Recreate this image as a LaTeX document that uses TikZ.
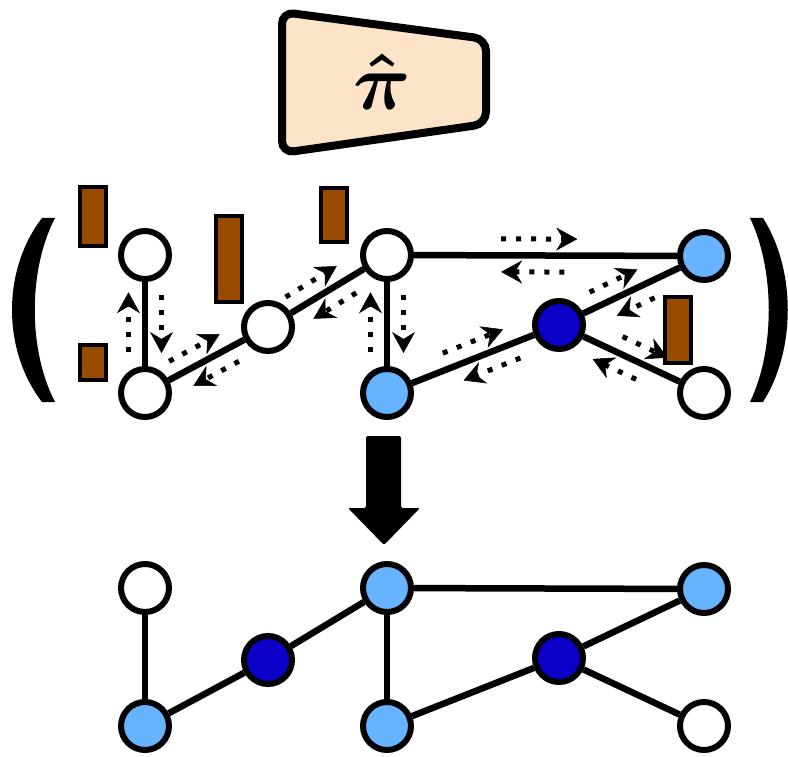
\documentclass[tikz,border=0pt]{standalone}
\usetikzlibrary{arrows.meta,calc}
\definecolor{lblue}{HTML}{66B3FF}
\definecolor{dblue}{HTML}{0A00C8}
\definecolor{peach}{HTML}{FDE3C8}
\definecolor{brownbar}{HTML}{994C00}
\tikzset{
  gnode/.style={circle,draw=black,line width=6pt,minimum size=48pt,inner sep=0pt},
  wnode/.style={gnode,fill=white},
  bnode/.style={gnode,fill=lblue},
  dnode/.style={gnode,fill=dblue},
  gedge/.style={line width=6.5pt},
  brownbox/.style={draw=black,line width=4.5pt,fill=brownbar},
  dotarr/.style={line width=5pt,dash pattern=on 5pt off 10pt,
     -{Stealth[length=21pt,width=23pt,inset=7pt,line width=0.5pt]}},
}
\newcommand{\darr}[4]{\draw[dotarr] ($(#1)!#3!(#2)!16.5pt!90:(#2)$) -- ($(#1)!#4!(#2)!16.5pt!90:(#2)$);}
\begin{document}
\begin{tikzpicture}[x=1pt,y=-1pt]
\useasboundingbox (0,0) rectangle (788,757);
% policy trapezoid
\draw[line width=8pt,fill=peach,rounded corners=12pt]
  (282,12) -- (486,39) -- (486,124) -- (282,153) -- cycle;
\node[inner sep=0pt] (pi) at (382,82) {\scalebox{8}{\boldmath$\hat{\pi}$}};
% parentheses
\fill (42,218) .. controls (2,270) and (2,350) .. (42,402) -- (55,402)
  .. controls (28,350) and (28,270) .. (55,218) -- cycle;
\fill (763,218) .. controls (796,270) and (796,350) .. (763,402) -- (750,402)
  .. controls (775,350) and (775,270) .. (750,218) -- cycle;
% brown bars
\draw[brownbox] (80,187) rectangle (106,246);
\draw[brownbox] (80,345) rectangle (106,380);
\draw[brownbox] (216,216) rectangle (242,302);
\draw[brownbox] (321,188) rectangle (347,242);
\draw[brownbox] (665,297) rectangle (691,363);
% top graph nodes
\node[wnode] (A) at (145,255) {};
\node[wnode] (B) at (145,393) {};
\node[wnode] (C) at (268,327) {};
\node[wnode] (D) at (387,255) {};
\node[bnode] (E) at (387,393) {};
\node[dnode] (F) at (559,325) {};
\node[bnode] (G) at (704,256) {};
\node[wnode] (H) at (704,393) {};
\draw[gedge] (A) -- (B);
\draw[gedge] (B) -- (C);
\draw[gedge] (C) -- (D);
\draw[gedge] (D) -- (E);
\draw[gedge] (D) -- (G);
\draw[gedge] (E) -- (F);
\draw[gedge] (F) -- (G);
\draw[gedge] (F) -- (H);
% messages
\darr{B}{A}{0.30}{0.73}
\darr{A}{B}{0.29}{0.71}
\darr{B}{C}{0.26}{0.67}
\darr{C}{B}{0.30}{0.67}
\darr{C}{D}{0.22}{0.65}
\darr{D}{C}{0.33}{0.69}
\darr{E}{D}{0.30}{0.73}
\darr{D}{E}{0.29}{0.71}
\darr{D}{G}{0.36}{0.60}
\darr{G}{D}{0.44}{0.64}
\darr{E}{F}{0.36}{0.71}
\darr{F}{E}{0.26}{0.59}
\darr{F}{G}{0.26}{0.59}
\darr{G}{F}{0.39}{0.65}
\darr{F}{H}{0.39}{0.70}
\darr{H}{F}{0.42}{0.72}
% big arrow
\fill[rounded corners=2pt] (366,436) -- (401,436) -- (401,508) -- (420,508)
  -- (384,545) -- (348,508) -- (366,508) -- cycle;
% bottom graph
\node[wnode] (A2) at (145,588) {};
\node[bnode] (B2) at (145,726) {};
\node[dnode] (C2) at (268,660) {};
\node[bnode] (D2) at (387,588) {};
\node[bnode] (E2) at (387,726) {};
\node[dnode] (F2) at (559,658) {};
\node[bnode] (G2) at (704,589) {};
\node[wnode] (H2) at (704,726) {};
\draw[gedge] (A2) -- (B2);
\draw[gedge] (B2) -- (C2);
\draw[gedge] (C2) -- (D2);
\draw[gedge] (D2) -- (E2);
\draw[gedge] (D2) -- (G2);
\draw[gedge] (E2) -- (F2);
\draw[gedge] (F2) -- (G2);
\draw[gedge] (F2) -- (H2);
\end{tikzpicture}
\end{document}
